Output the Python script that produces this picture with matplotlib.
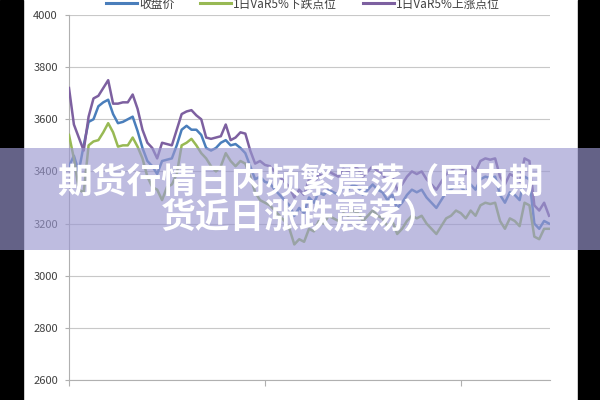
import numpy as np
import matplotlib
matplotlib.use('Agg')
import matplotlib.pyplot as plt
from matplotlib.patches import Rectangle
from matplotlib.lines import Line2D

#字体, 中文优先
plt.rcParams['font.family'] = ['Noto Sans CJK SC', 'DejaVu Sans']

#图例名称
names = ['收盘价', '1日VaR5%下跌点位', '1日VaR5%上涨点位']
colors = ['#4a7ebb', '#98b954', '#7d60a0']

#x轴刻度标签 (每40个交易日一个)
tick_pos = [0, 40, 80]
tick_labels = ['2012-11-30', '2013-1-31', '2013-3-29']

#收盘价
close = [3420, 3460, 3400, 3500, 3590, 3600, 3650, 3665, 3675, 3620,
         3585, 3590, 3600, 3610, 3555, 3490, 3440, 3420, 3390, 3440,
         3445, 3450, 3500, 3560, 3575, 3560, 3560, 3540, 3490, 3480,
         3490, 3510, 3520, 3500, 3505, 3490, 3470, 3420, 3370, 3380,
         3360, 3355, 3330, 3310, 3290, 3270, 3230, 3260, 3240, 3300,
         3280, 3320, 3310, 3330, 3320, 3310, 3340, 3330, 3350, 3340,
         3310, 3330, 3350, 3330, 3320, 3290, 3310, 3260, 3280, 3310,
         3330, 3320, 3330, 3300, 3280, 3260, 3290, 3320, 3330, 3350,
         3340, 3320, 3350, 3330, 3370, 3380, 3375, 3380, 3310, 3280,
         3320, 3310, 3290, 3380, 3370, 3200, 3180, 3210, 3200]

#1日VaR5%下跌点位
var_down = [3540, 3450, 3330, 3320, 3500, 3515, 3520, 3550, 3585, 3550,
            3495, 3500, 3500, 3530, 3495, 3450, 3380, 3340, 3330, 3290,
            3340, 3350, 3390, 3500, 3510, 3525, 3500, 3470, 3450, 3420,
            3400, 3420, 3470, 3440, 3420, 3440, 3430, 3380, 3320, 3290,
            3280, 3270, 3250, 3230, 3210, 3180, 3120, 3140, 3130, 3180,
            3170, 3210, 3200, 3230, 3220, 3210, 3240, 3230, 3250, 3240,
            3210, 3230, 3250, 3230, 3220, 3190, 3210, 3160, 3180, 3210,
            3230, 3220, 3230, 3200, 3180, 3160, 3190, 3220, 3230, 3250,
            3240, 3220, 3250, 3230, 3270, 3280, 3275, 3280, 3210, 3180,
            3220, 3210, 3190, 3280, 3270, 3150, 3140, 3180, 3180]

#1日VaR5%上涨点位
var_up = [3720, 3580, 3530, 3480, 3610, 3680, 3690, 3720, 3750, 3660,
          3660, 3665, 3665, 3695, 3640, 3560, 3510, 3490, 3450, 3510,
          3505, 3500, 3560, 3620, 3630, 3635, 3615, 3600, 3530, 3525,
          3530, 3535, 3580, 3520, 3530, 3550, 3545, 3480, 3430, 3440,
          3425, 3420, 3400, 3380, 3360, 3340, 3300, 3330, 3310, 3370,
          3350, 3390, 3380, 3400, 3390, 3380, 3410, 3400, 3420, 3410,
          3380, 3400, 3420, 3400, 3390, 3360, 3380, 3330, 3350, 3380,
          3400, 3390, 3400, 3370, 3350, 3330, 3360, 3390, 3400, 3420,
          3410, 3390, 3420, 3400, 3440, 3450, 3445, 3450, 3380, 3350,
          3390, 3380, 3360, 3450, 3440, 3270, 3250, 3280, 3230]


def drawChart(fig):
    """画三条折线"""
    ax = fig.add_axes([69/600, 20/400, 481/600, 365/400])
    x = np.arange(len(close))
    for data, c in zip([close, var_down, var_up], colors):
        ax.plot(x, data, color=c, lw=1.8, zorder=3)

    ax.set_xlim(0, 98.2)
    ax.set_ylim(2600, 4000)
    ax.set_yticks(np.arange(2600, 4001, 200))
    ax.set_xticks(tick_pos)
    ax.set_xticklabels(tick_labels)

    #网格线与坐标轴
    ax.grid(axis='y', color='#c8c8c8', lw=0.8)
    ax.set_axisbelow(True)
    for s in ['top', 'right']:
        ax.spines[s].set_visible(False)
    for s in ['left', 'bottom']:
        ax.spines[s].set_color('#b0b0b0')
        ax.spines[s].set_linewidth(0.8)
    ax.tick_params(axis='y', length=3, color='#b0b0b0', labelsize=8,
                   labelcolor='#404040', pad=5)
    ax.tick_params(axis='x', length=4, color='#b0b0b0', labelsize=8,
                   labelcolor='#404040', pad=11)
    return ax


def drawLegend(fig):
    """顶部图例"""
    handles = [Line2D([], [], color=c, lw=2.2) for c in colors]
    fig.legend(handles, names, loc='center', bbox_to_anchor=(0.505, 0.99),
               ncol=3, frameon=False, fontsize=8.5, handlelength=2.6,
               handletextpad=0.2, columnspacing=2.2, labelcolor='#404040')


def drawBanner(fig):
    """两侧黑边 + 半透明横幅标题"""
    fig.add_artist(Rectangle((0, 0), 23/600, 1, transform=fig.transFigure,
                             color='black', zorder=5))
    fig.add_artist(Rectangle((578/600, 0), 22/600, 1, transform=fig.transFigure,
                             color='black', zorder=5))
    fig.add_artist(Rectangle((0, 1 - 250/400), 1, 102/400,
                             transform=fig.transFigure, color='#9b98d0',
                             alpha=0.65, lw=0, zorder=10))
    fig.text(0.5, 1 - 182/400, '期货行情日内频繁震荡（国内期', ha='center',
             va='center', fontsize=25, fontweight='heavy', color='white',
             zorder=11)
    fig.text(0.5, 1 - 217/400, '货近日涨跌震荡）', ha='center',
             va='center', fontsize=25, fontweight='heavy', color='white',
             zorder=11)


fig = plt.figure(figsize=(6, 4), dpi=100)
drawChart(fig)
drawLegend(fig)
drawBanner(fig)
fig.savefig('out.png', dpi=100)
